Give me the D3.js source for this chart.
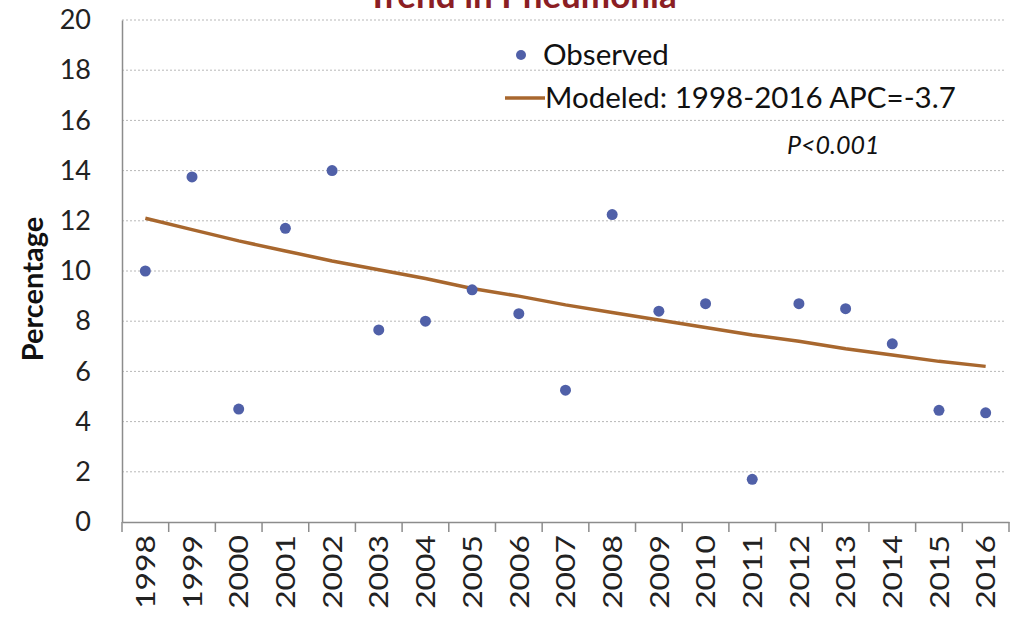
<!DOCTYPE html>
<html><head><meta charset="utf-8">
<script src="https://cdn.jsdelivr.net/npm/d3@7"></script>
<style>body{margin:0;background:#fff;}svg{display:block;}</style>
</head><body>
<svg id="c" width="1014" height="617"></svg>
<script>
const years = ["1998","1999","2000","2001","2002","2003","2004","2005","2006","2007","2008","2009","2010","2011","2012","2013","2014","2015","2016"];
const observed = [10.0,13.75,4.5,11.7,14.0,7.65,8.0,9.25,8.3,5.25,12.25,8.4,8.7,1.7,8.7,8.5,7.1,4.45,4.35];
const modeled = [12.1,11.65,11.2,10.8,10.4,10.05,9.7,9.3,9.0,8.65,8.35,8.05,7.75,7.45,7.2,6.9,6.65,6.4,6.2];
const yTicks = [0,2,4,6,8,10,12,14,16,18,20];
const title = "Trend in Pneumonia";
const yLabel = "Percentage";
const legendObserved = "Observed";
const legendModeled = "Modeled: 1998-2016 APC=-3.7";
const pNote = "P<0.001";

const font = "Lato, 'Open Sans', sans-serif";
const svg = d3.select("#c");
const m = {left:122, right:1009, top:20, bottom:522};
const x = d3.scaleBand().domain(years).range([m.left, m.right]);
const y = d3.scaleLinear().domain([0,20]).range([m.bottom, m.top]);

// gridlines
svg.append("g").selectAll("line").data(yTicks.filter(d=>d>0)).join("line")
  .attr("x1", m.left).attr("x2", m.right - 3)
  .attr("y1", d=>y(d)).attr("y2", d=>y(d))
  .attr("stroke","#b8b8b8").attr("stroke-width",1).attr("stroke-dasharray","2,2");

// y axis
const ya = svg.append("g").attr("transform",`translate(${m.left},0)`)
  .call(d3.axisLeft(y).tickValues(yTicks).tickSize(0).tickPadding(31));
ya.select(".domain").attr("stroke","#8c8c8c").attr("stroke-width",1.5);
ya.selectAll("text").attr("font-family",font).attr("font-size",27).attr("fill","#222")
  .attr("transform","scale(1,1.08)").attr("y", function(){ return 0; });
ya.selectAll(".tick").each(function(d){
  d3.select(this).select("text").attr("transform",null);
});

// x axis
const xa = svg.append("g").attr("transform",`translate(0,${m.bottom})`)
  .call(d3.axisBottom(x).tickSize(0));
xa.select(".domain").attr("stroke","#8c8c8c").attr("stroke-width",1.5);
const bounds = years.map(d=>x(d)).concat([m.right]);
xa.selectAll(".btick").data(bounds).join("line").attr("class","btick")
  .attr("x1",d=>d).attr("x2",d=>d).attr("y1",0).attr("y2",10)
  .attr("stroke","#8c8c8c").attr("stroke-width",1.5);
xa.selectAll(".tick text").attr("font-family",font).attr("font-size",27).attr("fill","#222")
  .attr("transform","rotate(-90) scale(1.18,1)").attr("text-anchor","end")
  .attr("x",-11).attr("y",0).attr("dy","0.36em");

// y label
svg.append("text").attr("transform","translate(43,289) rotate(-90)")
  .attr("text-anchor","middle").attr("font-family",font).attr("font-weight","bold")
  .attr("font-size",29).attr("fill","#111").text(yLabel);

// title
svg.append("text").attr("x",522).attr("y",8).attr("text-anchor","middle")
  .attr("font-family",font).attr("font-weight","bold").attr("font-size",35)
  .attr("fill","#8b1e24").text(title);

// modeled line
const cx = d=>x(d)+x.bandwidth()/2;
svg.append("path").datum(years.map((d,i)=>[cx(d), y(modeled[i])]))
  .attr("d", d3.line()).attr("fill","none").attr("stroke","#a8672e").attr("stroke-width",3.5);

// observed points
svg.append("g").selectAll("circle").data(years).join("circle")
  .attr("cx",cx).attr("cy",(d,i)=>y(observed[i])).attr("r",5.5).attr("fill","#5060a8");

// legend
svg.append("circle").attr("cx",521).attr("cy",55).attr("r",5).attr("fill","#5060a8");
svg.append("text").attr("x",543).attr("y",65).attr("font-family",font).attr("font-size",29.5)
  .attr("fill","#111").text(legendObserved);
svg.append("line").attr("x1",505).attr("x2",545).attr("y1",98).attr("y2",98)
  .attr("stroke","#a8672e").attr("stroke-width",3.5);
svg.append("text").attr("x",545).attr("y",108).attr("font-family",font).attr("font-size",29.5)
  .attr("fill","#111").text(legendModeled);
svg.append("text").attr("x",787).attr("y",154).attr("font-family",font).attr("font-size",25)
  .attr("font-style","italic").attr("fill","#111").text(pNote);
</script>
</body></html>
